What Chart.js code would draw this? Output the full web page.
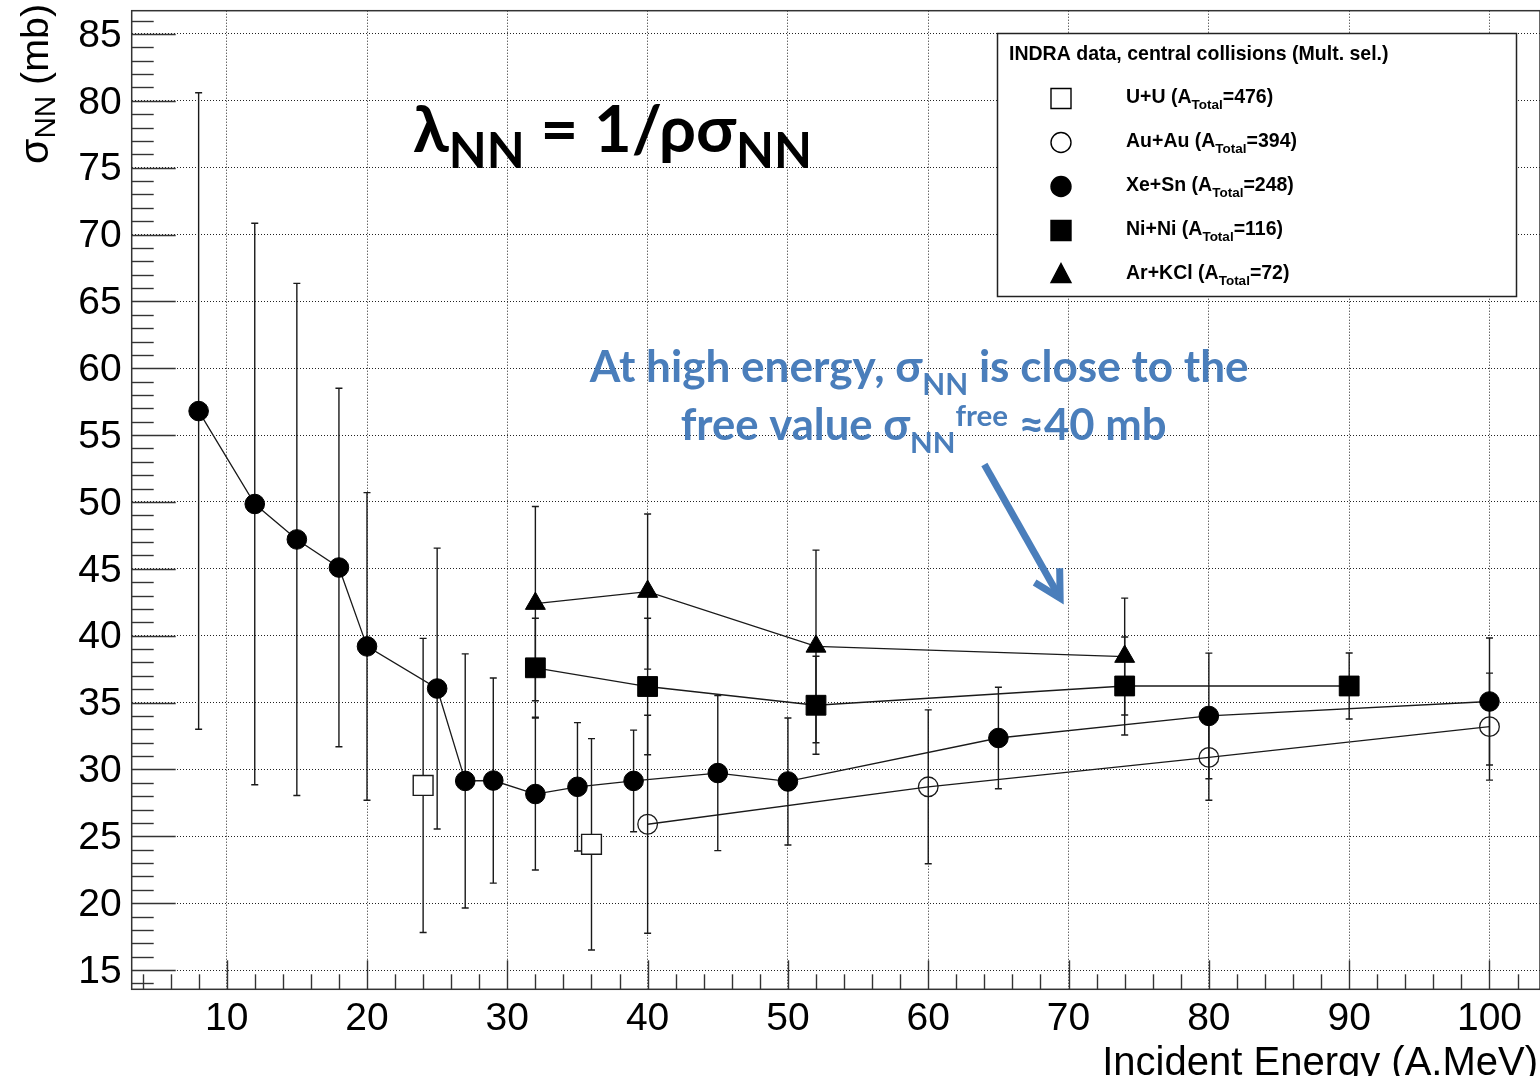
<!DOCTYPE html>
<html>
<head>
<meta charset="utf-8">
<script src="https://cdn.jsdelivr.net/npm/chart.js@4.4.0/dist/chart.umd.min.js"></script>
<style>
html,body{margin:0;padding:0;background:#fff;}
#wrap{width:1540px;height:1076px;position:relative;}
canvas{display:block;}
</style>
</head>
<body>
<div id="wrap"><canvas id="c" width="1540" height="1076"></canvas></div>
<script>
// ---------------- DATA ----------------
const uuEnergy = [24, 36];
const uuSigma  = [28.8, 24.4];
const uuError  = [11.0, 7.9];

const auEnergy = [40, 60, 80, 100];
const auSigma  = [25.9, 28.7, 30.9, 33.2];
const auError  = [8.15, 5.75, 3.2, 4.0];

const xeEnergy = [8, 12, 15, 18, 20, 25, 27, 29, 32, 35, 39, 45, 50, 65, 80, 100];
const xeSigma  = [56.8, 49.85, 47.2, 45.1, 39.2, 36.05, 29.14, 29.17, 28.16, 28.7, 29.14, 29.73, 29.1, 32.35, 34.0, 35.08];
const xeError  = [23.8, 21.0, 19.15, 13.4, 11.5, 10.5, 9.5, 7.67, 5.68, 4.8, 3.8, 5.8, 4.75, 3.8, 4.7, 4.75];

const niEnergy = [32, 40, 52, 74, 90];
const niSigma  = [37.6, 36.2, 34.8, 36.24, 36.24];
const niError  = [3.7, 5.1, 3.66, 3.66, 2.47];

const arEnergy = [32, 40, 52, 74];
const arSigma  = [42.4, 43.3, 39.2, 38.44];
const arError  = [7.26, 5.8, 7.2, 4.37];

const systemNames = ['U+U', 'Au+Au', 'Xe+Sn', 'Ni+Ni', 'Ar+KCl'];
const aTotal      = [476, 394, 248, 116, 72];
const legendTitle = 'INDRA data, central collisions (Mult. sel.)';

const xTickValues = [10, 20, 30, 40, 50, 60, 70, 80, 90, 100];
const yTickValues = [15, 20, 25, 30, 35, 40, 45, 50, 55, 60, 65, 70, 75, 80, 85];
const xRange = [3.23, 103.6];
const yRange = [13.557, 86.74];

const xAxisTitle = 'Incident Energy (A.MeV)';
// ----------------------------------------------------------------

const pts = (xs, ys) => xs.map((v, i) => ({x: v, y: ys[i]}));
const INK = '#1a1a1a';
const SANS = "'Liberation Sans', Arial, sans-serif";
const CAL = "Lato, 'Noto Sans', sans-serif";
const BLUE = '#4a7ebb';

const datasets = [
  {label: systemNames[0], data: pts(uuEnergy, uuSigma), err: uuError, showLine: false,
   pointStyle: 'rect', pointRadius: 14, pointBackgroundColor: '#fff', pointBorderColor: INK, pointBorderWidth: 1.4,
   borderColor: INK, borderWidth: 1.3},
  {label: systemNames[1], data: pts(auEnergy, auSigma), err: auError, showLine: true,
   pointStyle: 'circle', pointRadius: 9.8, pointBackgroundColor: 'rgba(0,0,0,0)', pointBorderColor: INK, pointBorderWidth: 1.3,
   borderColor: INK, borderWidth: 1.3},
  {label: systemNames[2], data: pts(xeEnergy, xeSigma), err: xeError, showLine: true,
   pointStyle: 'circle', pointRadius: 9.8, pointBackgroundColor: '#000', pointBorderColor: '#000', pointBorderWidth: 1,
   borderColor: INK, borderWidth: 1.3},
  {label: systemNames[3], data: pts(niEnergy, niSigma), err: niError, showLine: true,
   pointStyle: 'rect', pointRadius: 14, pointBackgroundColor: '#000', pointBorderColor: '#000', pointBorderWidth: 1,
   borderColor: INK, borderWidth: 1.3},
  {label: systemNames[4], data: pts(arEnergy, arSigma), err: arError, showLine: true,
   pointStyle: 'triangle', pointRadius: 11.5, pointBackgroundColor: '#000', pointBorderColor: '#000', pointBorderWidth: 1,
   borderColor: INK, borderWidth: 1.3}
];

// rich text helpers
function segFont(s, k, weight, family) { return `${weight} ${s.size * k}px ${family}`; }
function richWidth(ctx, segs, k, weight, family) {
  let w = 0;
  segs.forEach(s => { ctx.font = segFont(s, k, weight, family); w += ctx.measureText(s.t).width; });
  return w;
}
function drawRich(ctx, segs, x, y, o) {
  const weight = o.weight || 'bold', family = o.family || SANS;
  let k = 1;
  if (o.targetWidth) k = o.targetWidth / richWidth(ctx, segs, 1, weight, family);
  const w = richWidth(ctx, segs, k, weight, family);
  let cx = o.align === 'center' ? x - w / 2 : (o.align === 'right' ? x - w : x);
  ctx.fillStyle = o.color || '#000';
  ctx.textAlign = 'left';
  ctx.textBaseline = 'alphabetic';
  segs.forEach(s => {
    ctx.font = segFont(s, k, weight, family);
    ctx.fillText(s.t, cx, y + (s.dy || 0) * k);
    cx += ctx.measureText(s.t).width;
  });
  return w;
}

const errorBars = {
  id: 'errorBars',
  beforeDatasetsDraw(chart) {
    const {ctx, scales: {x, y}} = chart;
    ctx.save();
    ctx.strokeStyle = INK;
    ctx.lineWidth = 1.4;
    chart.data.datasets.forEach(ds => {
      ds.data.forEach((p, i) => {
        const e = ds.err[i];
        const px = x.getPixelForValue(p.x);
        const yt = y.getPixelForValue(p.y + e);
        const yb = y.getPixelForValue(p.y - e);
        ctx.beginPath();
        ctx.moveTo(px, yt); ctx.lineTo(px, yb);
        ctx.moveTo(px - 3.5, yt); ctx.lineTo(px + 3.5, yt);
        ctx.moveTo(px - 3.5, yb); ctx.lineTo(px + 3.5, yb);
        ctx.stroke();
      });
    });
    ctx.restore();
  }
};

const rootAxes = {
  id: 'rootAxes',
  beforeDatasetsDraw(chart) {
    const {ctx, chartArea: a, scales: {x, y}} = chart;
    ctx.save();
    ctx.strokeStyle = '#333';
    ctx.lineWidth = 1.4;
    for (let v = Math.ceil(yRange[0]); v <= yRange[1]; v++) {
      const py = Math.round(y.getPixelForValue(v)) + 0.5;
      const len = (v % 5 === 0) ? 44 : 22;
      ctx.beginPath(); ctx.moveTo(a.left, py); ctx.lineTo(a.left + len, py); ctx.stroke();
    }
    for (let v = 4; v <= xRange[1]; v += 2) {
      const px = Math.round(x.getPixelForValue(v)) + 0.5;
      const len = (v % 10 === 0) ? 29 : 15;
      ctx.beginPath(); ctx.moveTo(px, a.bottom); ctx.lineTo(px, a.bottom - len); ctx.stroke();
    }
    ctx.restore();
  },
  afterDatasetsDraw(chart) {
    const {ctx, chartArea: a} = chart;
    ctx.save();
    ctx.strokeStyle = '#333';
    ctx.lineWidth = 1.5;
    ctx.strokeRect(a.left, a.top, a.right - a.left, a.bottom - a.top);
    ctx.restore();
  }
};

function drawMarker(ctx, style, filled, cx, cy) {
  ctx.save();
  ctx.lineWidth = 1.4;
  ctx.strokeStyle = '#000';
  ctx.fillStyle = filled ? '#000' : '#fff';
  ctx.beginPath();
  if (style === 'rect') ctx.rect(cx - 10, cy - 10, 20, 20);
  else if (style === 'circle') ctx.arc(cx, cy, 10, 0, Math.PI * 2);
  else { ctx.moveTo(cx, cy - 11); ctx.lineTo(cx + 10, cy + 8); ctx.lineTo(cx - 10, cy + 8); ctx.closePath(); }
  ctx.fill(); ctx.stroke();
  ctx.restore();
}

const annotations = {
  id: 'annotations',
  afterDraw(chart) {
    const {ctx, chartArea: a, scales: {x, y}} = chart;
    ctx.save();

    // big formula
    drawRich(ctx, [
      {t: 'λ', size: 66}, {t: 'NN', size: 50, dy: 17}, {t: ' = 1/ρσ', size: 66}, {t: 'NN', size: 50, dy: 17}
    ], x.getPixelForValue(37.5), y.getPixelForValue(76.2), {align: 'center', targetWidth: 399, family: CAL, color: '#000'});

    // blue comment
    drawRich(ctx, [
      {t: 'At high energy, σ', size: 40}, {t: 'NN', size: 27, dy: 12}, {t: ' is close to the', size: 40}
    ], x.getPixelForValue(59.35), y.getPixelForValue(59.0), {align: 'center', targetWidth: 659, family: CAL, color: BLUE});
    drawRich(ctx, [
      {t: 'free value σ', size: 40}, {t: 'NN', size: 27, dy: 12}, {t: 'free', size: 27, dy: -13}, {t: ' ≈40 mb', size: 40}
    ], x.getPixelForValue(59.67), y.getPixelForValue(54.64), {align: 'center', targetWidth: 486, family: CAL, color: BLUE});

    // arrow
    const x0 = x.getPixelForValue(64.0), y0 = y.getPixelForValue(52.8);
    const x1 = x.getPixelForValue(69.4), y1 = y.getPixelForValue(42.8);
    const ang = Math.atan2(y0 - y1, x0 - x1);
    ctx.strokeStyle = BLUE;
    ctx.lineWidth = 7;
    ctx.lineCap = 'butt';
    ctx.lineJoin = 'miter';
    ctx.beginPath(); ctx.moveTo(x0, y0); ctx.lineTo(x1, y1); ctx.stroke();
    ctx.beginPath();
    ctx.moveTo(x1 + 30 * Math.cos(ang + 0.5), y1 + 30 * Math.sin(ang + 0.5));
    ctx.lineTo(x1, y1);
    ctx.lineTo(x1 + 30 * Math.cos(ang - 0.5), y1 + 30 * Math.sin(ang - 0.5));
    ctx.stroke();

    // legend box
    const L = 997, T = 33, R = 1516, B = 296;
    ctx.fillStyle = '#fff';
    ctx.fillRect(L, T, R - L, B - T);
    ctx.strokeStyle = '#222';
    ctx.lineWidth = 1.5;
    ctx.strokeRect(L + 0.5, T + 0.5, R - L, B - T);
    drawRich(ctx, [{t: legendTitle, size: 19}], 1009, 60, {align: 'left', targetWidth: 380, family: SANS, color: '#000'});
    const styles = chart.data.datasets.map(d => d.pointStyle);
    const fills = chart.data.datasets.map(d => d.pointBackgroundColor === '#000');
    const rows = [98.5, 142.5, 186.5, 230.5, 274.5];
    systemNames.forEach((nm, i) => {
      drawMarker(ctx, styles[i], fills[i], 1061, rows[i]);
      drawRich(ctx, [
        {t: nm + ' (A', size: 19.5}, {t: 'Total', size: 13.5, dy: 6}, {t: '=' + aTotal[i] + ')', size: 19.5}
      ], 1126, rows[i] + 4, {align: 'left', family: SANS, color: '#000'});
    });

    // axis titles
    drawRich(ctx, [{t: xAxisTitle, size: 40}], a.right - 2, 1075, {align: 'right', family: SANS, weight: 'normal', color: '#000'});
    ctx.save();
    ctx.translate(48, 4);
    ctx.rotate(-Math.PI / 2);
    drawRich(ctx, [{t: 'σ', size: 42}, {t: 'NN', size: 30, dy: 7}, {t: ' (mb)', size: 40}], 0, 0,
      {align: 'right', targetWidth: 160, family: SANS, weight: 'normal', color: '#000'});
    ctx.restore();

    ctx.restore();
  }
};

function zeroPad(s) { s.paddingTop = 0; s.paddingBottom = 0; s.paddingLeft = 0; s.paddingRight = 0; }

new Chart(document.getElementById('c'), {
  type: 'scatter',
  data: {datasets},
  options: {
    responsive: false,
    animation: false,
    devicePixelRatio: 1,
    layout: {autoPadding: false, padding: {top: 10.7, right: 0, bottom: 0, left: 0}},
    plugins: {legend: {display: false}, tooltip: {enabled: false}},
    scales: {
      x: {
        type: 'linear', min: xRange[0], max: xRange[1],
        afterFit(s) { s.height = 86.7; zeroPad(s); },
        afterBuildTicks(s) { s.ticks = xTickValues.map(v => ({value: v})); },
        grid: {color: '#222', lineWidth: 1, drawTicks: false},
        border: {display: false, dash: [1, 2]},
        ticks: {padding: 7, autoSkip: false, maxRotation: 0, color: '#000',
                font: {family: SANS, size: 39}, callback: v => String(v)}
      },
      y: {
        type: 'linear', min: yRange[0], max: yRange[1],
        afterFit(s) { s.width = 131.7; zeroPad(s); },
        afterBuildTicks(s) { s.ticks = yTickValues.map(v => ({value: v})); },
        grid: {color: '#222', lineWidth: 1, drawTicks: false},
        border: {display: false, dash: [1, 2]},
        ticks: {padding: 10, autoSkip: false, color: '#000', labelOffset: 2,
                font: {family: SANS, size: 39}, callback: v => String(v)}
      }
    }
  },
  plugins: [errorBars, rootAxes, annotations]
});
</script>
</body>
</html>
